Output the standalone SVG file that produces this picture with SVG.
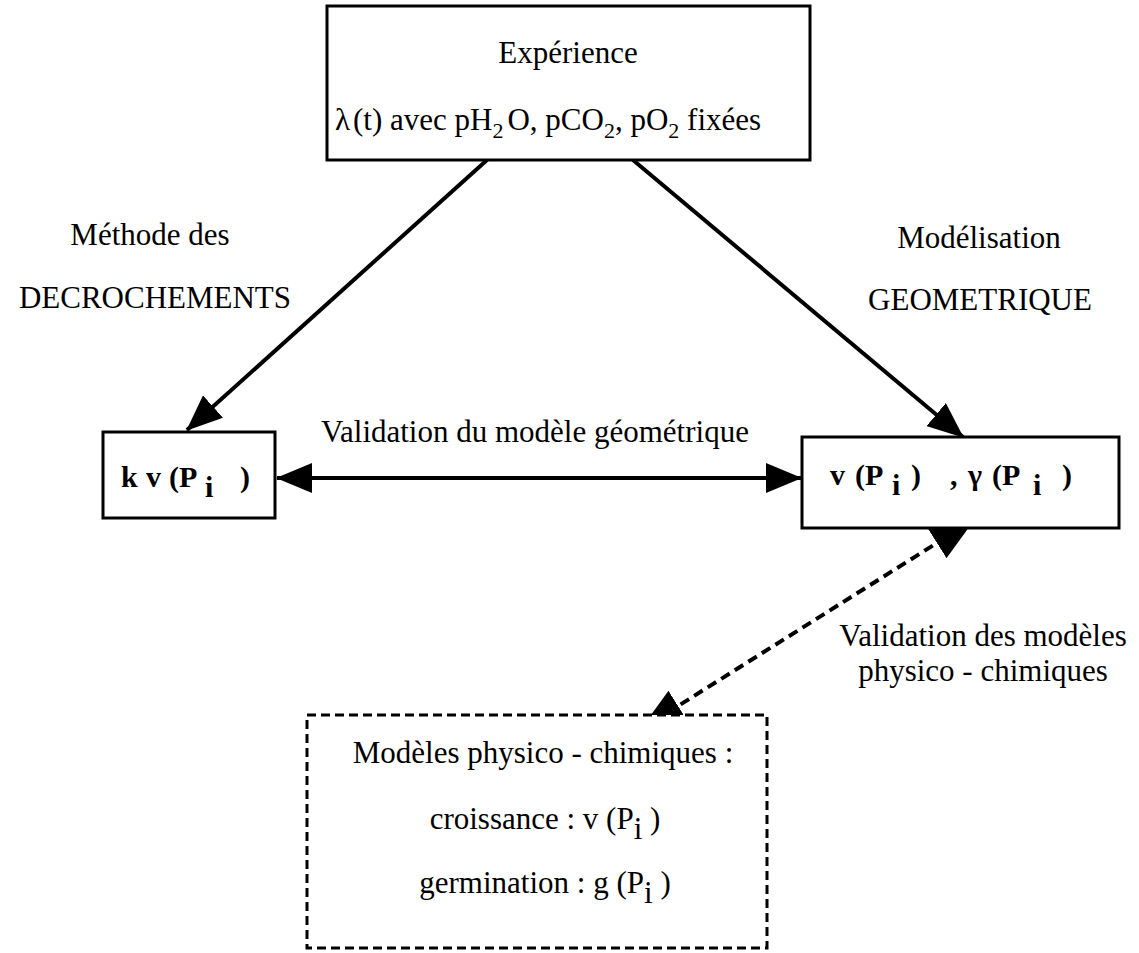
<svg xmlns="http://www.w3.org/2000/svg" width="1139" height="953" viewBox="0 0 1139 953">
<defs>
<style>
text{font-family:"Liberation Serif","Times New Roman",serif;font-size:31px;fill:#000}
.b{font-weight:bold;font-size:30px}
.m{text-anchor:middle}
.sub{font-size:22px}
.box{fill:#fff;stroke:#000;stroke-width:3}
.dbox{fill:#fff;stroke:#000;stroke-width:3;stroke-dasharray:9 5}
.ln{stroke:#000;stroke-width:4;fill:none}
.dl{stroke:#000;stroke-width:4;fill:none;stroke-dasharray:10 6}
</style>
<marker id="ah" markerUnits="userSpaceOnUse" markerWidth="36" markerHeight="30" viewBox="0 0 36 30" refX="35" refY="15" orient="auto-start-reverse">
<path d="M0,0 L36,15 L0,30 z" fill="#000" stroke="none"/>
</marker>
<marker id="ahd" markerUnits="userSpaceOnUse" markerWidth="45" markerHeight="36" viewBox="0 0 45 36" refX="45" refY="18" orient="auto-start-reverse">
<path d="M0,0 L45,18 L0,36 z" fill="#000" stroke="none"/>
</marker>
</defs>

<g id="connectors">
<line class="ln" x1="487" y1="160" x2="187" y2="430" marker-end="url(#ah)"/>
<line class="ln" x1="633" y1="160" x2="963" y2="437" marker-end="url(#ah)"/>
<line class="ln" x1="277" y1="478" x2="801" y2="478" marker-start="url(#ah)" marker-end="url(#ah)"/>
<line class="dl" x1="640" y1="730" x2="975" y2="519" marker-start="url(#ahd)" marker-end="url(#ahd)"/>
</g>

<g id="experience">
<rect class="box" x="327" y="6" width="483" height="154"/>
<text class="m" x="568" y="63">Expérience</text>
<text x="335" y="130">λ<tspan dx="3">(t) avec pH</tspan><tspan class="sub" dy="8">2</tspan><tspan dy="-8" dx="4">O, pCO</tspan><tspan class="sub" dy="8">2</tspan><tspan dy="-8">, pO</tspan><tspan class="sub" dy="8">2</tspan><tspan dy="-8"> fixées</tspan></text>
</g>

<g id="label-methode">
<text class="m" x="150" y="245">Méthode des</text>
<text class="m" x="155" y="308">DECROCHEMENTS</text>
</g>

<g id="label-modelisation">
<text class="m" x="979" y="248">Modélisation</text>
<text class="m" x="980" y="310">GEOMETRIQUE</text>
</g>

<g id="kv">
<rect class="box" x="103" y="432" width="172" height="86"/>
<text class="b" y="487"><tspan x="121">k</tspan><tspan x="146">v</tspan><tspan x="169">(P</tspan><tspan x="205" dy="10">i</tspan><tspan x="240" dy="-10">)</tspan></text>
</g>

<g id="label-validation-geo">
<text class="m" x="535" y="442">Validation du modèle géométrique</text>
</g>

<g id="v-gamma">
<rect class="box" x="802" y="437" width="317" height="91"/>
<text class="b" y="485"><tspan x="830">v</tspan><tspan x="855">(P</tspan><tspan x="892" dy="10">i</tspan><tspan x="911" dy="-10">)</tspan><tspan x="950">,</tspan><tspan x="968">γ</tspan><tspan x="992">(P</tspan><tspan x="1033" dy="10">i</tspan><tspan x="1062" dy="-10">)</tspan></text>
</g>

<g id="label-validation-pc">
<text class="m" x="983" y="646">Validation des modèles</text>
<text class="m" x="983" y="681">physico - chimiques</text>
</g>

<g id="modeles">
<rect class="dbox" x="307" y="715" width="460" height="233"/>
<text class="m" x="543" y="763">Modèles physico - chimiques :</text>
<text class="m" x="545" y="829">croissance : v (P<tspan dy="10">i</tspan><tspan dy="-10"> )</tspan></text>
<text class="m" x="545" y="893">germination : g (P<tspan dy="10">i</tspan><tspan dy="-10"> )</tspan></text>
</g>
</svg>
